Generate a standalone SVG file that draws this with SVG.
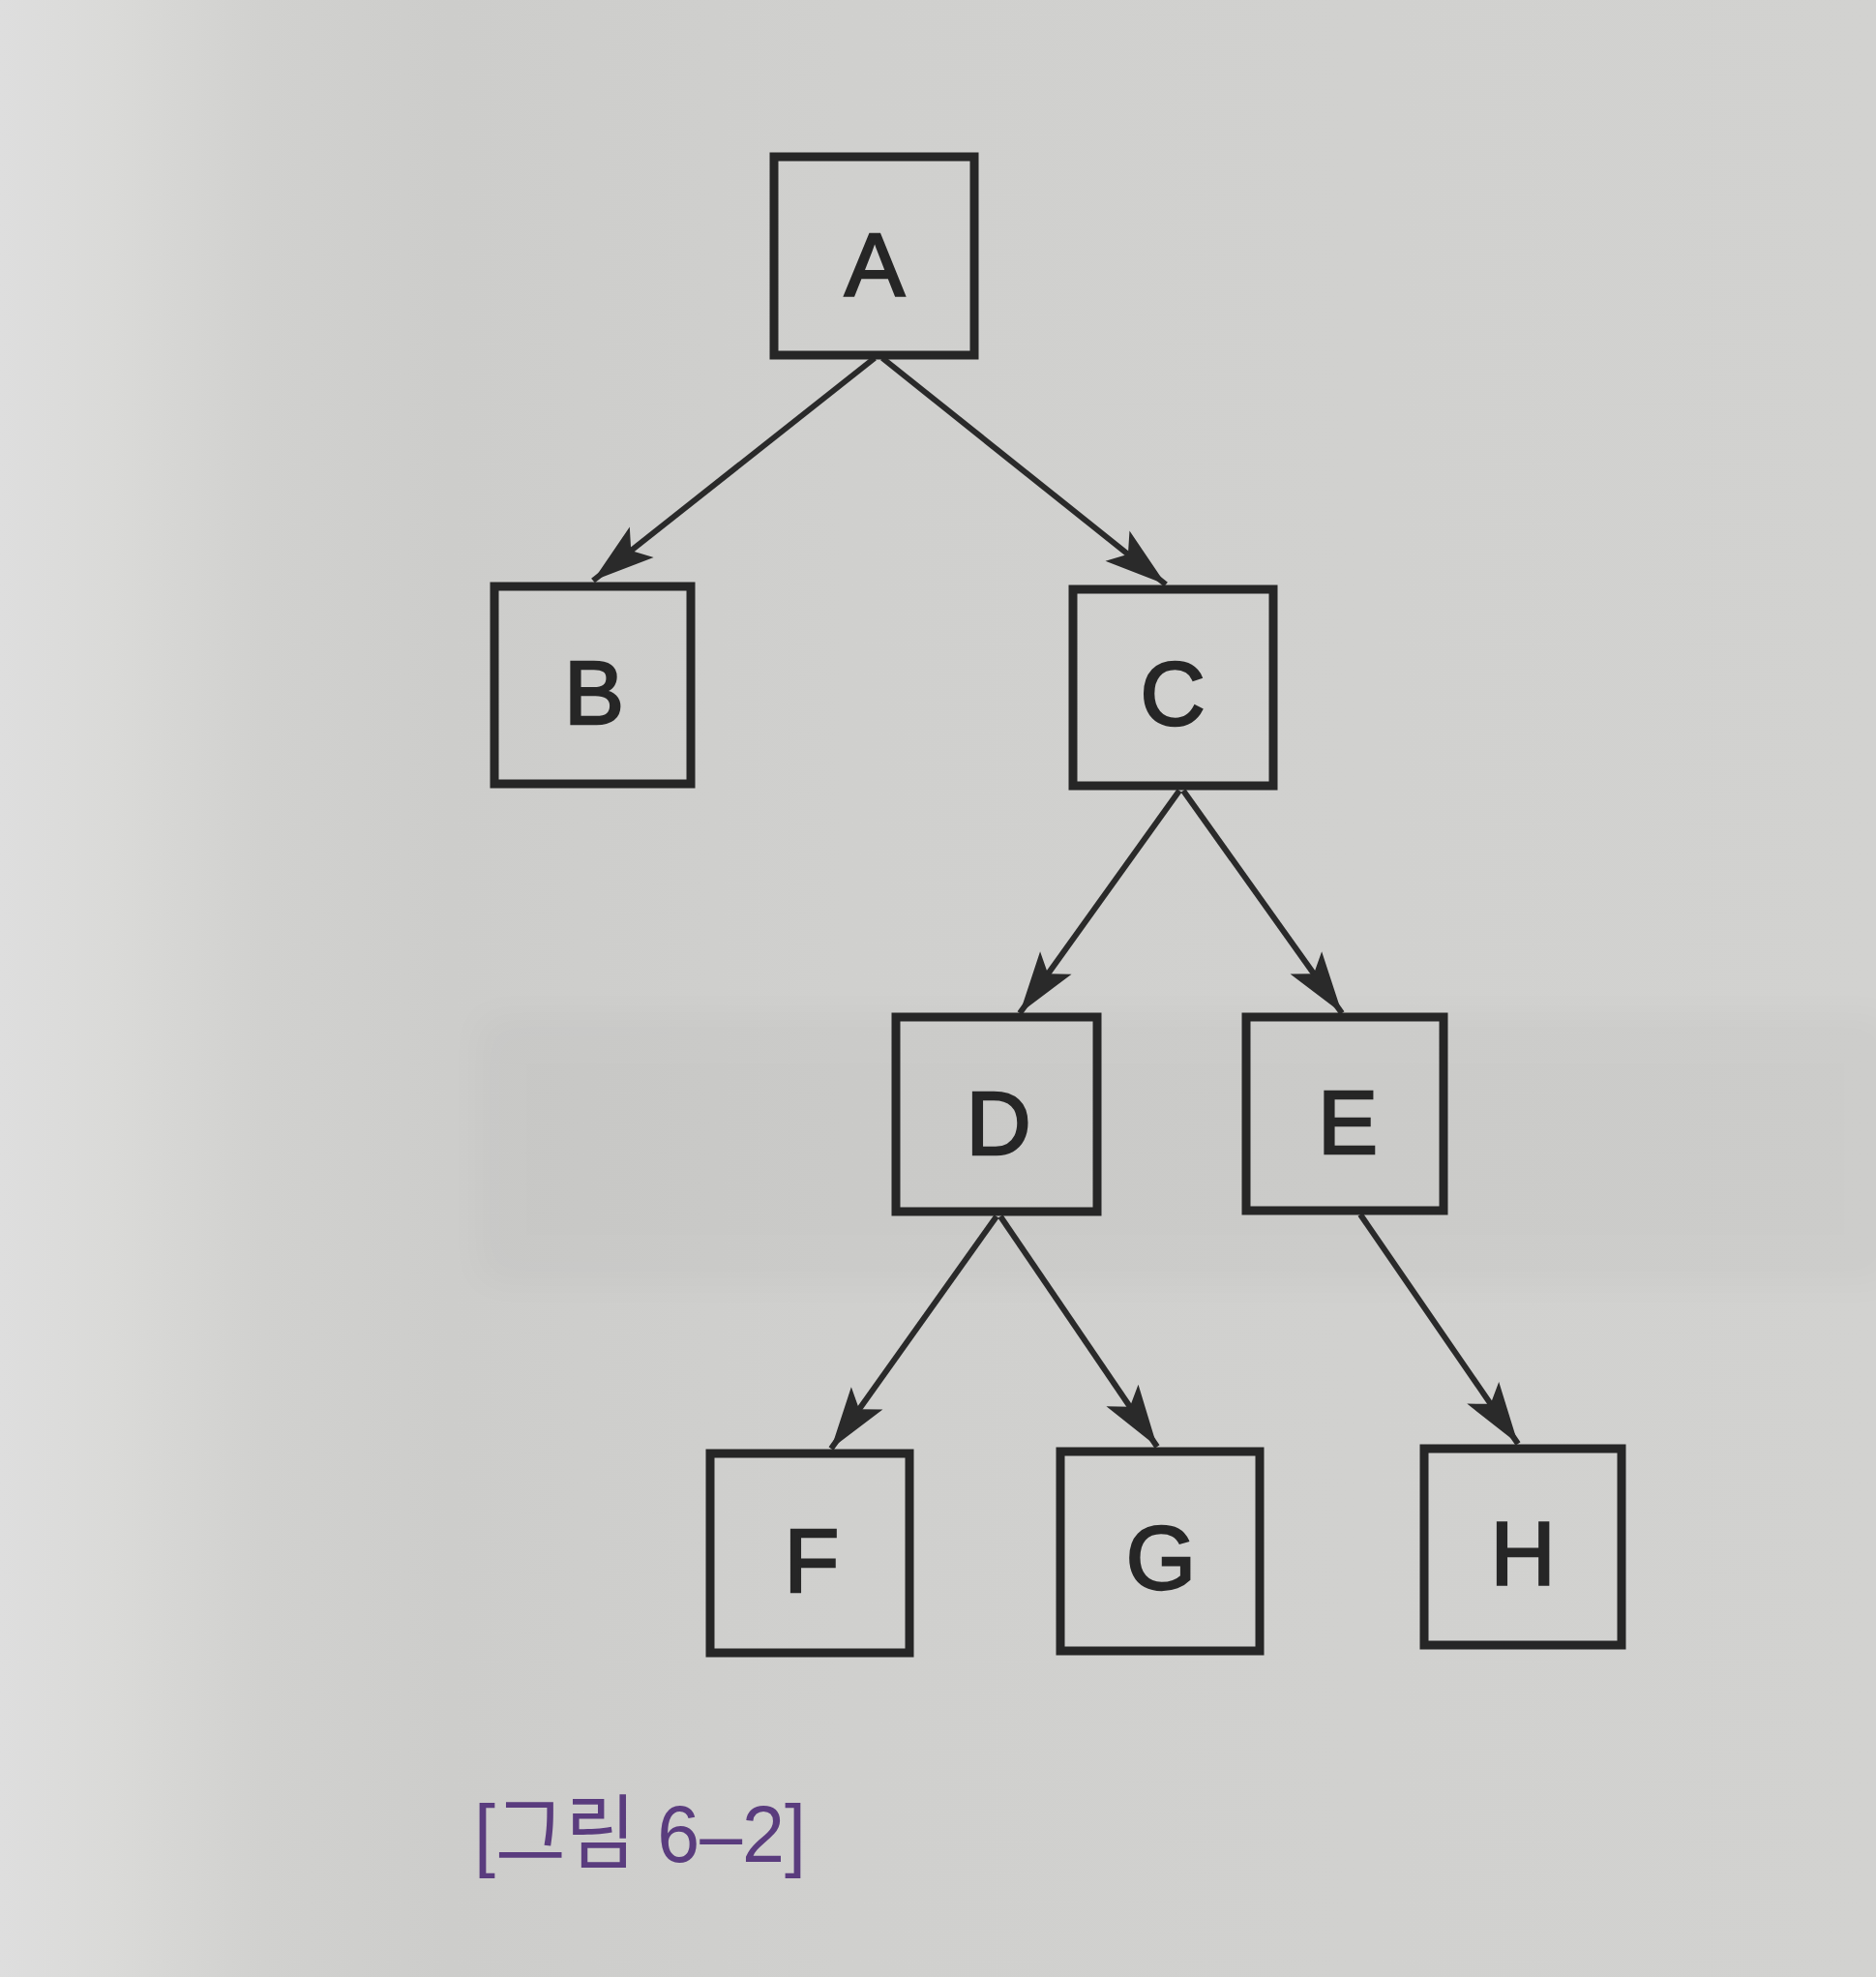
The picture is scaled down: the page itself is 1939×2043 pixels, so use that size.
<svg xmlns="http://www.w3.org/2000/svg" width="1939" height="2043" viewBox="0 0 1939 2043">
  <style>
    .box { fill: none; stroke: #262626; stroke-width: 9; }
    .lbl { font-family: "Liberation Sans", Arial, sans-serif; font-size: 93px; fill: #262626; stroke: #262626; stroke-width: 2.5; text-anchor: middle; }
    .edge { stroke: #2a2a2a; stroke-width: 6; fill: none; marker-end: url(#arrow); }
    .cap { font-family: "Liberation Sans", "Noto Sans CJK KR", sans-serif; font-size: 84px; fill: #5a3c7e; }
  </style>
  <defs>
    <linearGradient id="page" x1="0" y1="0" x2="1" y2="0">
      <stop offset="0" stop-color="#dedede"/>
      <stop offset="0.06" stop-color="#dadad8"/>
      <stop offset="0.14" stop-color="#d1d1cf"/>
      <stop offset="0.24" stop-color="#cdcdcb"/>
      <stop offset="0.45" stop-color="#d0d0ce"/>
      <stop offset="1" stop-color="#d2d2d0"/>
    </linearGradient>
    <filter id="soft" x="-10%" y="-30%" width="120%" height="160%">
      <feGaussianBlur stdDeviation="20"/>
    </filter>
    <marker id="arrow" markerUnits="userSpaceOnUse" markerWidth="70" markerHeight="50" refX="66" refY="22" orient="auto" overflow="visible">
      <path d="M66,22 L2,2 L16,22 L2,42 Z" fill="#2a2a2a"/>
    </marker>
  </defs>

  <rect x="0" y="0" width="1939" height="2043" fill="url(#page)"/>
  <rect x="495" y="1050" width="1460" height="275" fill="#000" opacity="0.022" filter="url(#soft)"/>

  <g id="connectors">
    <line class="edge" x1="904" y1="370" x2="613" y2="600"/>
    <line class="edge" x1="912" y1="370" x2="1205" y2="604"/>
    <line class="edge" x1="1219" y1="817" x2="1054" y2="1047"/>
    <line class="edge" x1="1223" y1="817" x2="1387" y2="1047"/>
    <line class="edge" x1="1030" y1="1257" x2="859" y2="1497"/>
    <line class="edge" x1="1034" y1="1257" x2="1196" y2="1495"/>
    <line class="edge" x1="1406" y1="1255" x2="1569" y2="1492"/>
  </g>

  <g id="node-A">
    <rect class="box" x="800" y="162" width="207" height="205"/>
    <text class="lbl" x="904" y="306">A</text>
  </g>
  <g id="node-B">
    <rect class="box" x="511" y="606" width="203" height="204"/>
    <text class="lbl" x="614" y="748">B</text>
  </g>
  <g id="node-C">
    <rect class="box" x="1109" y="609" width="207" height="203"/>
    <text class="lbl" x="1212" y="749">C</text>
  </g>
  <g id="node-D">
    <rect class="box" x="926" y="1051" width="208" height="201"/>
    <text class="lbl" x="1032" y="1193">D</text>
  </g>
  <g id="node-E">
    <rect class="box" x="1288" y="1051" width="204" height="200"/>
    <text class="lbl" x="1393" y="1192">E</text>
  </g>
  <g id="node-F">
    <rect class="box" x="734" y="1502" width="206" height="206"/>
    <text class="lbl" x="839" y="1645">F</text>
  </g>
  <g id="node-G">
    <rect class="box" x="1096" y="1500" width="206" height="206"/>
    <text class="lbl" x="1200" y="1642">G</text>
  </g>
  <g id="node-H">
    <rect class="box" x="1472" y="1497" width="204" height="203"/>
    <text class="lbl" x="1574" y="1638">H</text>
  </g>

  <g id="caption">
    <text class="cap" x="490" y="1924" textLength="343" lengthAdjust="spacingAndGlyphs">[그림 6–2]</text>
  </g>
</svg>
